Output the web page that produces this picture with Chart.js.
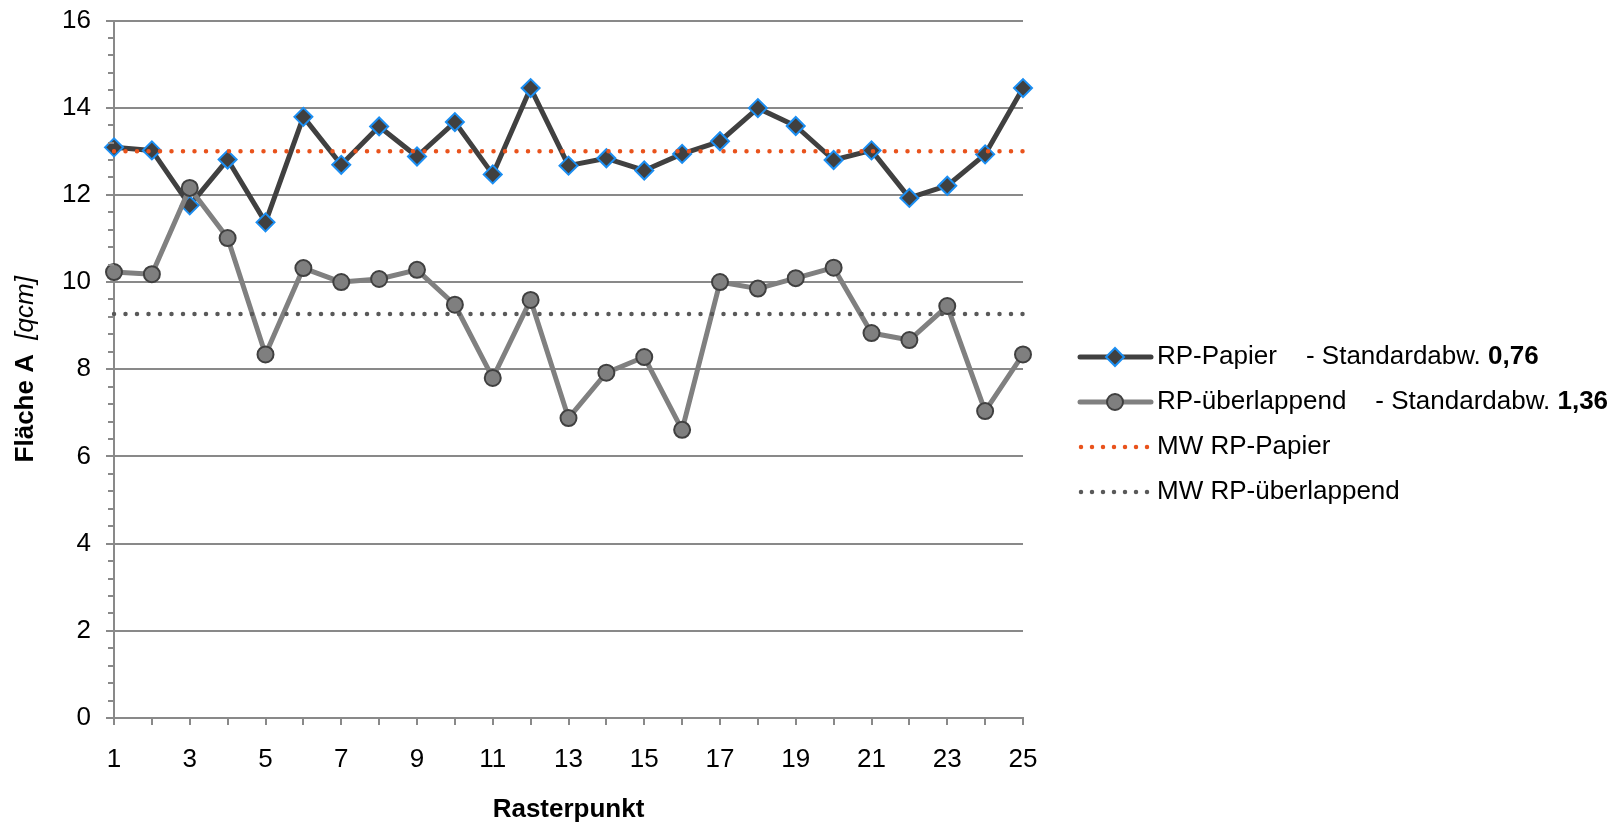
<!DOCTYPE html>
<html>
<head>
<meta charset="utf-8">
<script src="https://cdn.jsdelivr.net/npm/chart.js@4.4.1/dist/chart.umd.min.js"></script>
<style>
  html, body { margin: 0; padding: 0; background: #fff; }
  #wrap { width: 1623px; height: 823px; position: relative; }
</style>
</head>
<body>
<div id="wrap"><canvas id="c" width="1623" height="823"></canvas></div>
<script>
// ---- data ----
const categories = ['1','2','3','4','5','6','7','8','9','10','11','12','13','14','15','16','17','18','19','20','21','22','23','24','25'];
const rpPapier = [13.09, 13.02, 11.76, 12.81, 11.37, 13.79, 12.69, 13.57, 12.88, 13.67, 12.47, 14.45, 12.67, 12.84, 12.56, 12.94, 13.23, 13.99, 13.58, 12.80, 13.02, 11.93, 12.21, 12.93, 14.45];
const rpUeberlappend = [10.23, 10.18, 12.16, 11.01, 8.34, 10.32, 10.00, 10.07, 10.28, 9.48, 7.80, 9.59, 6.88, 7.92, 8.28, 6.61, 10.00, 9.85, 10.09, 10.33, 8.83, 8.67, 9.45, 7.04, 8.34];
const mwPapier = [13.0, 13.0, 13.0, 13.0, 13.0, 13.0, 13.0, 13.0, 13.0, 13.0, 13.0, 13.0, 13.0, 13.0, 13.0, 13.0, 13.0, 13.0, 13.0, 13.0, 13.0, 13.0, 13.0, 13.0, 13.0];
const mwUeberlappend = [9.27, 9.27, 9.27, 9.27, 9.27, 9.27, 9.27, 9.27, 9.27, 9.27, 9.27, 9.27, 9.27, 9.27, 9.27, 9.27, 9.27, 9.27, 9.27, 9.27, 9.27, 9.27, 9.27, 9.27, 9.27];
const seriesNames = ['RP-Papier', 'RP-überlappend', 'MW RP-Papier', 'MW RP-überlappend'];
const stdLabel = '- Standardabw. ';
const stdValues = ['0,76', '1,36'];
const yTitleBold = 'Fläche A';
const yTitleItalic = '[qcm]';
const xTitle = 'Rasterpunkt';

const FONT = "'Liberation Sans', Arial, Helvetica, sans-serif";
const GRID = '#898989';
const DARK = '#404040';
const MID = '#808080';
const BLUE = '#1b8ef2';
const ORANGE = '#e9531c';
const DOTGRAY = '#595959';

Chart.defaults.font.family = FONT;
Chart.defaults.font.size = 26;
Chart.defaults.color = '#000';

const extras = {
  id: 'extras',
  afterDraw(chart) {
    const ctx = chart.ctx;
    const ca = chart.chartArea;
    const ys = chart.scales.y;
    ctx.save();
    // minor ticks on y axis
    ctx.strokeStyle = GRID;
    ctx.lineWidth = 2;
    for (let i = 0; i <= 40; i++) {
      if (i % 5 === 0) continue;
      const py = Math.round(ys.getPixelForValue(i * 0.4));
      ctx.beginPath();
      ctx.moveTo(ca.left - 6, py);
      ctx.lineTo(ca.left, py);
      ctx.stroke();
    }
    // y title (mixed bold / italic)
    const boldFont = 'bold 26px ' + FONT;
    const italFont = 'italic 26px ' + FONT;
    ctx.font = boldFont;
    const wb = ctx.measureText(yTitleBold + '  ').width;
    ctx.font = italFont;
    const wi = ctx.measureText(yTitleItalic).width;
    const total = wb + wi;
    const cy = (ca.top + ca.bottom) / 2;
    ctx.translate(26, cy);
    ctx.rotate(-Math.PI / 2);
    ctx.textBaseline = 'middle';
    ctx.textAlign = 'left';
    ctx.fillStyle = '#000';
    ctx.font = boldFont;
    ctx.fillText(yTitleBold, -total / 2, 0);
    ctx.font = italFont;
    ctx.fillText(yTitleItalic, -total / 2 + wb, 0);
    ctx.restore();

    // legend
    ctx.save();
    const lx0 = 1080, lx1 = 1151, mx = 1115, tx = 1157;
    const rows = [357, 402, 447, 492];
    ctx.textBaseline = 'middle';
    ctx.textAlign = 'left';
    // row 1
    ctx.lineCap = 'round';
    ctx.strokeStyle = DARK; ctx.lineWidth = 5;
    ctx.beginPath(); ctx.moveTo(lx0, rows[0]); ctx.lineTo(lx1, rows[0]); ctx.stroke();
    ctx.fillStyle = DARK; ctx.strokeStyle = BLUE; ctx.lineWidth = 2;
    ctx.beginPath();
    ctx.moveTo(mx - 9, rows[0]); ctx.lineTo(mx, rows[0] - 9); ctx.lineTo(mx + 9, rows[0]); ctx.lineTo(mx, rows[0] + 9); ctx.closePath();
    ctx.fill(); ctx.stroke();
    // row 2
    ctx.strokeStyle = MID; ctx.lineWidth = 5;
    ctx.beginPath(); ctx.moveTo(lx0, rows[1]); ctx.lineTo(lx1, rows[1]); ctx.stroke();
    ctx.fillStyle = '#7f7f7f'; ctx.strokeStyle = DARK; ctx.lineWidth = 2;
    ctx.beginPath(); ctx.arc(mx, rows[1], 8, 0, Math.PI * 2); ctx.fill(); ctx.stroke();
    // rows 3,4 dotted
    const dotted = [[rows[2], ORANGE], [rows[3], DOTGRAY]];
    dotted.forEach(([ry, col]) => {
      ctx.strokeStyle = col; ctx.lineWidth = 4.5; ctx.lineCap = 'round';
      ctx.setLineDash([0, 11]);
      ctx.beginPath(); ctx.moveTo(lx0 + 1, ry); ctx.lineTo(lx1 - 2, ry); ctx.stroke();
    });
    ctx.setLineDash([]);
    // texts
    ctx.fillStyle = '#000';
    const normal = '26px ' + FONT;
    const bold = 'bold 26px ' + FONT;
    for (let i = 0; i < 4; i++) {
      ctx.font = normal;
      ctx.fillText(seriesNames[i], tx, rows[i]);
      if (i < 2) {
        const w = ctx.measureText(seriesNames[i]).width;
        const sx = tx + w + 29;
        ctx.fillText(stdLabel, sx, rows[i]);
        const w2 = ctx.measureText(stdLabel).width;
        ctx.font = bold;
        ctx.fillText(stdValues[i], sx + w2, rows[i]);
      }
    }
    ctx.restore();
  }
};

new Chart(document.getElementById('c'), {
  type: 'line',
  data: {
    labels: categories,
    datasets: [
      {
        label: seriesNames[3], data: mwUeberlappend, order: 0,
        borderColor: DOTGRAY, borderWidth: 4.5, borderDash: [0, 11.5], borderCapStyle: 'round',
        pointRadius: 0, fill: false, tension: 0
      },
      {
        label: seriesNames[2], data: mwPapier, order: 1,
        borderColor: ORANGE, borderWidth: 4.5, borderDash: [0, 11.5], borderCapStyle: 'round',
        pointRadius: 0, fill: false, tension: 0
      },
      {
        label: seriesNames[1], data: rpUeberlappend, order: 2,
        borderColor: MID, borderWidth: 5, borderJoinStyle: 'round',
        pointStyle: 'circle', pointRadius: 8, pointBackgroundColor: '#7f7f7f',
        pointBorderColor: DARK, pointBorderWidth: 2, fill: false, tension: 0
      },
      {
        label: seriesNames[0], data: rpPapier, order: 3,
        borderColor: DARK, borderWidth: 5, borderJoinStyle: 'round',
        pointStyle: 'rectRot', pointRadius: 9, pointBackgroundColor: DARK,
        pointBorderColor: BLUE, pointBorderWidth: 2, fill: false, tension: 0
      }
    ]
  },
  options: {
    responsive: false,
    animation: false,
    devicePixelRatio: 1,
    layout: { padding: { top: 20.5, right: 600, bottom: 0, left: 0 } },
    plugins: { legend: { display: false }, tooltip: { enabled: false } },
    scales: {
      x: {
        type: 'category',
        offset: false,
        grid: { drawOnChartArea: false, drawTicks: true, tickLength: 7, color: GRID, lineWidth: 2 },
        border: { display: true, color: GRID, width: 2 },
        ticks: {
          autoSkip: false, maxRotation: 0, minRotation: 0, padding: 19, color: '#000',
          font: { size: 26 },
          callback: function(v, i) { return i % 2 === 0 ? categories[i] : ''; }
        },
        title: { display: true, text: xTitle, font: { size: 26, weight: 'bold' }, color: '#000', padding: { top: 0, bottom: -2 } },
        afterFit: function(s) { s.height = 105; s.paddingLeft = 0; s.paddingRight = 0; }
      },
      y: {
        min: 0, max: 16,
        grid: { drawOnChartArea: true, drawTicks: true, tickLength: 8, color: GRID, lineWidth: 2 },
        border: { display: true, color: GRID, width: 2 },
        ticks: { stepSize: 2, padding: 15, color: '#000', font: { size: 26 } },
        afterFit: function(s) { s.width = 114; s.paddingTop = 0; s.paddingBottom = 0; }
      }
    }
  },
  plugins: [extras]
});
</script>
</body>
</html>
